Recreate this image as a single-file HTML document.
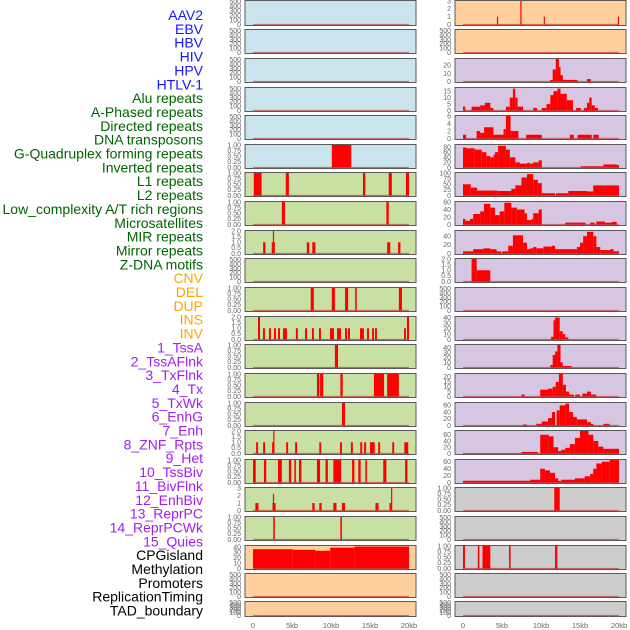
<!DOCTYPE html>
<html><head><meta charset="utf-8"><style>
html,body{margin:0;padding:0;background:#fff;}
svg{display:block;font-family:"Liberation Sans",sans-serif;}
</style></head><body>
<svg id="chart" width="630" height="630" viewBox="0 0 630 630" xmlns="http://www.w3.org/2000/svg"></svg>
<script>
const labels=["AAV2","EBV","HBV","HIV","HPV","HTLV-1","Alu repeats","A-Phased repeats","Directed repeats","DNA transposons","G-Quadruplex forming repeats","Inverted repeats","L1 repeats","L2 repeats","Low_complexity A/T rich regions","Microsatellites","MIR repeats","Mirror repeats","Z-DNA motifs","CNV","DEL","DUP","INS","INV","1_TssA","2_TssAFlnk","3_TxFlnk","4_Tx","5_TxWk","6_EnhG","7_Enh","8_ZNF_Rpts","9_Het","10_TssBiv","11_BivFlnk","12_EnhBiv","13_ReprPC","14_ReprPCWk","15_Quies","CPGisland","Methylation","Promoters","ReplicationTiming","TAD_boundary"];
const labelGroups=[0,0,0,0,0,0,1,1,1,1,1,1,1,1,1,1,1,1,1,2,2,2,2,2,3,3,3,3,3,3,3,3,3,3,3,3,3,3,3,4,4,4,4,4];
const xTickLabels=["0","5kb","10kb","15kb","20kb"];
const xTickValues=[0,5,10,15,20];
const T500=["0","100","200","300","400","500"],T1=["0.00","0.25","0.50","0.75","1.00"],T2=["0.0","0.5","1.0","1.5","2.0"];
const midTicks=[T500,T500,T500,T500,T500,T1,T1,T1,T2,T500,T1,T2,T1,T1,T1,T2,T1,["0","1","2","3"],T1,["0","10","20","30","40"],T500,T500];
const midMax=[520,520,520,520,520,1,1,1,2,520,1,2,1,1,1,2,1,3,1,42,520,520];
const midBg=[0,0,0,0,0,0,1,1,1,1,1,1,1,1,1,1,1,1,1,2,2,2];
const midSegs=[[],[],[],[],[],
[[10.1,12.6,1]],
[[0.1,1.1,1],[4.2,4.6,1],[14.1,14.4,1],[17.4,17.8,1],[19.6,20,1]],
[[3.7,4.1,1],[17.1,17.4,1]],
[[1.3,1.6,1],[2.4,2.8,1],[2.55,2.7,2],[6.9,7.2,1],[7.6,8.0,1],[17.2,17.6,1],[18.6,18.9,1]],
[],
[[7.4,7.8,1],[10.1,10.5,1],[11.8,12.2,1],[13.1,13.3,1],[18.7,19.1,1]],
[[0.64,0.9,2],[1.28,1.53,1],[2.05,2.3,1],[2.69,2.94,1],[3.21,3.46,1],[3.85,4.35,1],[5.5,5.75,1],[6.67,6.92,1],[7.56,7.81,1],[8.46,8.71,1],[9.87,10.38,1],[10.77,11.28,1],[11.8,12.05,1],[12.18,12.43,1],[13.72,14.22,1],[14.62,14.87,1],[15.26,15.51,1],[15.64,15.89,1],[19.36,19.61,1],[19.74,20,2]],
[[10.5,10.9,1]],
[[8.2,8.5,1],[8.6,9.0,1],[11.2,11.5,1],[15.5,16.8,1],[17.2,18.7,1]],
[[11.4,11.8,1]],
[[0.4,0.65,1],[1.3,1.55,1],[2.45,2.7,1],[2.6,2.75,2],[4.25,4.5,1],[5.4,5.65,1],[8.5,8.75,1],[11.15,11.4,1],[12.55,12.8,1],[13.75,14.0,1],[14.25,14.5,1],[15.0,15.6,1],[16.05,16.3,1],[17.85,18.1,1],[19.4,19.9,1]],
[[0,0.35,1],[1.4,1.7,1],[3.2,3.7,1],[4.6,4.9,1],[5.3,5.5,1],[5.9,6.2,1],[8.2,8.6,1],[9.3,9.6,1],[10.3,11.3,1],[12.7,13,1],[13.5,13.8,1],[14.4,14.6,1],[16.7,17.1,1],[19.5,19.8,1]],
[[0.3,0.7,1],[2.5,2.9,1],[2.55,2.7,2.2],[7.6,7.9,1],[8.5,8.8,1],[10.3,10.7,1],[11.4,11.8,1],[15.7,16.1,1],[17.5,17.8,1],[17.7,17.85,3]],
[[2.6,2.8,1],[11.2,11.4,1]],
[[0,5.1,36],[5.1,8,35],[8,9.9,33],[9.9,13,39],[13,20,41]],
[],[]];
const rightTicks=[["0","1","2","3"],T500,["0","10","20"],["0","5","10","15"],["0","2","4","6"],["0","20","40","60","80"],["0","25","50","75","100"],["0","20","40","60"],["0","20","40"],T2,T500,["0","10","20","30","40"],["0","10","20","30","40"],["0","5","10","15","20"],["0","20","40","60"],["0","20","40","60"],["0","20","40","60"],T1,T500,T1,T500,T500];
const rightMax=[3,520,28,17.5,6,88,100,60,52,2,520,41,45,23,67,72,65,1,520,1,520,520];
const rightBg=[2,2,3,3,3,3,3,3,3,3,3,3,3,3,3,3,3,4,4,4,4,4];
const rightSegs=[
[[4.35,4.5,1],[7.35,7.5,3],[10.35,10.5,1],[19.85,20,1]],
[],
[[11.15,11.5,2],[11.5,11.9,15],[11.9,12.3,28],[12.3,12.5,18],[12.5,12.8,8],[12.8,14.7,2],[15.9,16.4,3]],
[[0,0.3,3],[1.1,2.2,3],[2.2,2.8,4],[2.8,3.5,6],[3.5,3.9,2],[5.5,6.0,3],[6.0,6.4,10],[6.4,6.7,17],[6.7,7.0,10],[7.0,7.7,3],[9.0,9.5,2],[10.1,10.7,2],[10.7,11.2,5],[11.2,11.6,12],[11.6,12.1,15],[12.1,12.5,17],[12.5,13.3,13],[13.3,14.1,8],[14.5,15.1,2],[15.5,15.9,2],[15.9,16.2,6],[16.2,16.5,10],[16.5,16.9,4],[16.9,17.3,2]],
[[0,0.4,1],[1.75,2.2,2],[2.2,2.7,1.5],[2.7,3.9,3],[3.9,5.2,1],[5.2,5.5,2.5],[5.5,6.1,6],[6.1,7.1,2],[8.1,10.1,1],[13.7,14.2,1],[14.7,16.5,1],[16.7,17.4,1]],
[[0,0.45,78],[0.45,1.5,75],[1.5,2.4,70],[2.4,3.0,60],[3.0,3.5,45],[3.5,3.9,40],[3.9,4.1,50],[4.1,4.5,60],[4.5,5.5,85],[5.5,6.0,70],[6.0,6.7,40],[6.7,7.3,20],[7.3,8.2,15],[8.2,8.6,18],[8.6,9.0,15],[9.0,9.7,20],[9.7,10.1,28],[15.1,18,5],[18,19.7,12],[19.7,20,10]],
[[0,1,50],[1,1.8,35],[1.8,4.4,22],[4.4,6.2,20],[6.2,6.7,30],[6.7,7.5,45],[7.5,8.2,80],[8.2,9.0,95],[9.0,9.6,70],[9.6,10.1,55],[10.1,11.8,10],[11.9,13.5,10],[13.5,15.9,20],[15.9,16.7,18],[16.7,18,45],[18,20,45]],
[[0,0.3,15],[0.3,0.9,10],[0.9,1.3,15],[1.3,2.2,28],[2.2,2.7,35],[2.7,3.5,55],[3.5,4.1,45],[4.1,4.7,25],[4.7,5.3,35],[5.3,6.2,58],[6.2,6.9,45],[6.9,7.9,40],[7.9,8.2,30],[8.2,8.8,12],[8.8,9.0,15],[9.0,9.7,30],[9.7,10.1,40],[13.1,15.7,5],[16.3,16.9,5],[17.1,18.2,8],[18.2,19.1,5],[19.1,19.7,7]],
[[0,1.3,5],[1.3,2.6,10],[2.6,3.5,12],[3.5,4.3,10],[4.3,4.9,5],[5.0,5.8,5],[5.8,6.4,18],[6.4,7.7,42],[7.7,8.2,25],[8.2,8.6,10],[8.6,9.0,12],[9.0,9.4,15],[9.4,10.3,12],[10.3,11.4,16],[11.4,11.8,18],[11.8,14.6,10],[14.6,15.0,15],[15.0,15.4,25],[15.4,15.9,40],[15.9,16.7,50],[16.7,17.1,40],[17.1,17.6,15],[17.6,18.9,8],[18.9,19.3,10],[19.3,20,5]],
[[1.1,1.75,2],[1.75,3.5,1]],
[],
[[11.3,11.6,5],[11.6,11.8,35],[11.8,12.4,40],[12.4,12.8,15],[12.8,13.1,10],[13.1,13.5,4]],
[[11.2,11.5,5],[11.5,11.8,25],[11.8,12.1,32],[12.1,12.5,45],[12.5,12.8,10],[12.8,13.9,3]],
[[7.5,7.9,2],[9.9,10.9,7],[10.9,11.5,8],[11.5,11.9,10],[11.9,12.3,15],[12.3,12.8,23],[12.8,13.2,12],[13.2,13.6,5],[13.6,14.2,2],[14.4,15.0,2],[15.3,15.9,3],[15.9,16.4,5],[16.4,17.1,2]],
[[7.7,8.2,3],[9.4,10.1,5],[10.1,10.9,12],[10.9,11.4,22],[11.4,11.8,40],[12.0,12.4,45],[12.4,13.1,60],[13.1,13.6,65],[13.6,14.1,40],[14.1,14.6,25],[14.6,15.9,18],[15.9,16.4,10],[16.4,16.7,5],[18.0,18.8,5]],
[[0,7.5,1],[7.5,9.6,5],[9.9,11.0,60],[11.0,11.6,55],[11.6,12.2,20],[12.2,12.6,8],[12.6,13.1,12],[13.1,13.7,18],[13.7,14.35,30],[14.35,15.0,50],[15.0,16.1,72],[16.1,16.7,60],[16.7,17.35,40],[17.35,18.0,22],[18.0,20,15]],
[[0,8.6,5],[8.6,9.9,8],[9.9,10.5,40],[10.5,11.15,35],[11.15,11.8,28],[11.8,12.2,12],[12.2,12.6,5],[12.6,14.35,8],[14.35,15.6,12],[15.6,16.3,18],[16.3,16.7,25],[16.7,17.1,40],[17.1,17.8,55],[17.8,18.8,60],[18.8,20,65]],
[[11.7,12.4,1]],
[],
[[0,0.25,1],[1.9,2.1,1],[2.5,3.5,1],[5.9,6.1,1],[11.8,12.1,1]],
[],[]];

const NS="http://www.w3.org/2000/svg";
const svg=document.getElementById("chart");
function mk(tag,attrs,parent){const e=document.createElementNS(NS,tag);for(const k in attrs)e.setAttribute(k,attrs[k]);(parent||svg).appendChild(e);return e;}
const bgColors=["#c9e4ec","#c8e0a3","#fdd09e","#d7c6e1","#cdcdcd"];
const labelColors=["#1515ff","#006400","#ffa500","#a020f0","#000000"];
const rowTops=[0,29,58,87,115,144,172,201,230,258,287,316,344,373,402,430,459,487,516,545,573,601];
const rowH=rowTops.map((t,i)=>i===0?25:(i===21?15:24));

// labels
labels.forEach((t,i)=>{
  const el=mk("text",{x:203,y:15+i*13.85+5,"text-anchor":"end","font-size":"14",fill:labelColors[labelGroups[i]]});
  el.textContent=t;
  
  
});

function xScale(x0,kb){return x0+8+kb*7.8;}
function drawCol(colName,left,ticks,maxs,bgs,segs){
  const g=mk("g",{});
  
  
  for(let i=0;i<rowTops.length;i++){
    const top=rowTops[i],h=rowH[i],bot=top+h,w=171;
    const pg=mk("g",{},g);
    
    
    mk("rect",{x:left,y:top+0.5,width:w,height:h,fill:bgColors[bgs[i]],stroke:"#5a5a5a","stroke-width":1},pg);
    const ymax=maxs[i];
    const yS=v=>bot-0.5-(v/ymax)*(h-1.5);
    segs[i].forEach(s=>{
      const x1=xScale(left,s[0]),x2=xScale(left,s[1]);
      const r=mk("rect",{x:x1,y:yS(s[2]),width:Math.max(1.2,x2-x1),height:bot-0.5-yS(s[2]),fill:"#ff0000"},pg);
      
      
    });
    mk("line",{x1:xScale(left,0),x2:xScale(left,20),y1:bot-0.5,y2:bot-0.5,stroke:"rgba(190,0,0,0.5)","stroke-width":1.3},pg);
    ticks[i].forEach(t=>{
      const v=parseFloat(t);
      const tx=mk("text",{x:left-4,y:Math.min(yS(v),bot)+2.3,"text-anchor":"end","font-size":"7",fill:"#666"},pg);
      tx.textContent=t;
      
      
    });
  }
  xTickValues.forEach((v,j)=>{
    const tx=mk("text",{x:xScale(left,v),y:628,"text-anchor":"middle","font-size":"7.5",fill:"#666"},g);
    tx.textContent=xTickLabels[j];
    
    
  });
}
drawCol("middle",245,midTicks,midMax,midBg,midSegs);
drawCol("right",455,rightTicks,rightMax,rightBg,rightSegs);
</script>
</body></html>
